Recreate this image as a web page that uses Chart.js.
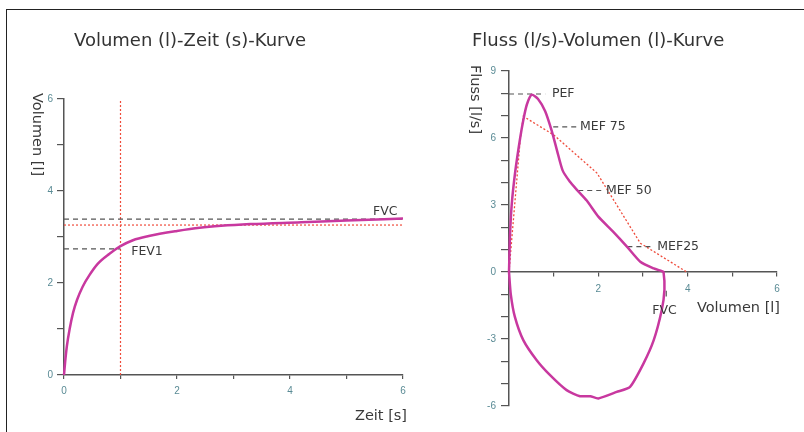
<!DOCTYPE html>
<html>
<head>
<meta charset="utf-8">
<script src="https://cdn.jsdelivr.net/npm/chart.js@4.4.1/dist/chart.umd.min.js"></script>
<style>
html,body{margin:0;padding:0;background:#fff;}
#wrap{position:relative;width:804px;height:432px;overflow:hidden;background:#fff;font-family:"DejaVu Sans",sans-serif;color:#333;}
canvas{position:absolute;top:0;}
#c1{left:0;}
#c2{left:420px;}
.frame-top{position:absolute;left:6px;top:9px;width:798px;height:0;border-top:1.5px solid #222;}
.frame-left{position:absolute;left:6px;top:9px;width:0;height:423px;border-left:1.5px solid #222;}
.title{position:absolute;font-size:18px;line-height:18px;white-space:nowrap;color:#333;}
.ax{position:absolute;font-size:14.5px;line-height:15px;white-space:nowrap;color:#3a3a3a;}
.rot{transform-origin:0 0;transform:rotate(90deg);}
</style>
</head>
<body>
<div id="wrap">
  <div class="frame-top"></div>
  <div class="frame-left"></div>
  <canvas id="c1" width="420" height="432"></canvas>
  <canvas id="c2" width="384" height="432"></canvas>
  <div class="title" style="left:74px;top:31px;">Volumen (l)-Zeit (s)-Kurve</div>
  <div class="title" style="left:472px;top:31px;">Fluss (l/s)-Volumen (l)-Kurve</div>
  <div class="ax" style="right:397px;top:408px;">Zeit [s]</div>
  <div class="ax" style="right:24px;top:300px;">Volumen [l]</div>
  <div class="ax rot" style="left:45px;top:93px;">Volumen [l]</div>
  <div class="ax rot" style="left:483px;top:65px;">Fluss [l/s]</div>
</div>
<script>
// ---------- Left chart: Volumen-Zeit-Kurve ----------
const timeS   = [0, 0.02, 0.05, 0.1, 0.16, 0.23, 0.33, 0.45, 0.6, 0.8, 1.0, 1.22, 1.5, 2.0, 2.4, 3.3, 4.2, 5.0, 6.0];
const volumeL = [0, 0.28, 0.62, 1.0, 1.35, 1.63, 1.92, 2.17, 2.42, 2.63, 2.8, 2.93, 3.02, 3.13, 3.2, 3.28, 3.32, 3.36, 3.4];
const fev1Time = [0, 1];
const fev1Volume = [2.74, 2.74];
const fvcTime = [0, 6];
const fvcVolume = [3.39, 3.39];
const refTime = [0, 6];
const refVolume = [3.26, 3.26];
const oneSecTime = [1, 1];
const oneSecVolume = [0, 6];
const timeTickLabels = ['0', '2', '4', '6'];
const volumeTickLabels = ['0', '2', '4', '6'];

// ---------- Right chart: Fluss-Volumen-Kurve ----------
const loopVolume = [0, 0.02, 0.06, 0.14, 0.25, 0.32, 0.4, 0.51, 0.65, 0.81, 0.96, 1.08, 1.2, 1.36, 1.52, 1.74, 2.0, 2.33, 2.64, 2.94, 3.24, 3.42, 3.46, 3.48, 3.42, 3.24, 3.01, 2.71, 2.41, 2.0, 1.82, 1.59, 1.29, 0.92, 0.62, 0.32, 0.13, 0.04, 0];
const loopFlow   = [0, 1.5, 3.0, 4.5, 6.0, 6.8, 7.5, 7.94, 7.75, 7.2, 6.3, 5.4, 4.55, 4.05, 3.68, 3.2, 2.48, 1.81, 1.14, 0.46, 0.16, 0.04, 0, -0.8, -1.7, -3.05, -4.1, -5.14, -5.37, -5.66, -5.56, -5.56, -5.29, -4.62, -3.95, -3.05, -2.0, -1.0, 0];
const predVolume = [0, 0.06, 0.25, 0.32, 1.0, 1.97, 2.94, 3.98];
const predFlow   = [0, 1.43, 5.9, 6.97, 6.14, 4.43, 1.29, 0];
const markerNames = ['PEF', 'MEF 75', 'MEF 50', 'MEF25'];
const markerFlow  = [7.97, 6.5, 3.65, 1.14];
const markerVolFrom = [0, 0.99, 1.55, 2.65];
const markerVolTo   = [0.81, 1.52, 2.11, 3.23];
const fvcMarkVolume = [3.52, 3.52];
const fvcMarkFlow = [-0.84, -1.1];
const flowTickLabels = ['9', '6', '3', '0', '-3', '-6'];
const loopVolTickLabels = ['2', '4', '6'];

function pts(xs, ys) { return xs.map((x, i) => ({x: x, y: ys[i]})); }

const PINK = '#c8389f';
const RED = '#ef4b3b';
const DASH = '#555';
const TICKC = '#5a8b95';
const AXISC = '#555';

const labelPlugin = {
  id: 'textLabels',
  afterDatasetsDraw(chart, args, opts) {
    const ctx = chart.ctx, sx = chart.scales.x, sy = chart.scales.y;
    ctx.save();
    ctx.font = opts.font;
    ctx.fillStyle = opts.color;
    ctx.textBaseline = 'middle';
    (opts.items || []).forEach(it => {
      ctx.textAlign = it.align || 'left';
      ctx.fillText(it.text, sx.getPixelForValue(it.x), sy.getPixelForValue(it.y));
    });
    ctx.restore();
  }
};

function lineDs(data, color, width, dash, order) {
  return {data: data, showLine: true, borderColor: color, backgroundColor: color, borderWidth: width,
          borderDash: dash || [], pointRadius: 0, pointHoverRadius: 0, fill: false, clip: false, order: order};
}

function tickFont() { return {family: 'Liberation Sans', size: 10}; }

// Left chart
const ds1 = [
  Object.assign(lineDs(pts(timeS, volumeL), PINK, 2.5, null, 0), {cubicInterpolationMode: 'monotone'}),
  lineDs(pts(oneSecTime, oneSecVolume), RED, 1.2, [2, 2], 3),
  lineDs(pts(refTime, refVolume), RED, 1.2, [2, 2], 3),
  lineDs(pts(fvcTime, fvcVolume), DASH, 1.2, [5, 4], 2),
  lineDs(pts(fev1Time, fev1Volume), DASH, 1.2, [5, 4], 2)
];

new Chart(document.getElementById('c1'), {
  type: 'scatter',
  data: {datasets: ds1},
  plugins: [labelPlugin],
  options: {
    responsive: false, animation: false, devicePixelRatio: 1,
    layout: {padding: {left: 0, right: 17, top: 99, bottom: 0}},
    plugins: {
      legend: {display: false}, tooltip: {enabled: false},
      textLabels: {font: '12.5px "DejaVu Sans"', color: '#3a3a3a', items: [
        {text: 'FEV1', x: 1.19, y: 2.67},
        {text: 'FVC', x: 5.47, y: 3.55}
      ]}
    },
    scales: {
      x: {
        type: 'linear', min: 0, max: 6,
        afterFit: s => { s.height = 57; },
        border: {display: true, color: AXISC, width: 1.5},
        grid: {drawOnChartArea: false, drawTicks: true, tickLength: 4, color: AXISC, lineWidth: 1.2},
        ticks: {stepSize: 1, autoSkip: false, maxRotation: 0, padding: 6, color: TICKC, font: tickFont(),
                callback: v => timeTickLabels.includes(String(v)) ? String(v) : ''}
      },
      y: {
        type: 'linear', min: 0, max: 6,
        afterFit: s => { s.width = 64; },
        border: {display: true, color: AXISC, width: 1.5},
        grid: {drawOnChartArea: false, drawTicks: true, tickLength: 7, color: AXISC, lineWidth: 1.2},
        ticks: {stepSize: 1, autoSkip: false, padding: 4, color: TICKC, font: tickFont(),
                callback: v => volumeTickLabels.includes(String(v)) ? String(v) : ''}
      }
    }
  }
});

// Right chart
const ds2 = [
  Object.assign(lineDs(pts(loopVolume, loopFlow), PINK, 2.5, null, 0), {tension: 0.2}),
  lineDs(pts(predVolume, predFlow), RED, 1.3, [2, 2], 3)
];
markerNames.forEach((n, i) => {
  ds2.push(lineDs(pts([markerVolFrom[i], markerVolTo[i]], [markerFlow[i], markerFlow[i]]), DASH, 1.2, [5, 4], 2));
});
ds2.push(lineDs(pts(fvcMarkVolume, fvcMarkFlow), DASH, 1.2, null, 2));

const markerLabelVol = [0.96, 1.59, 2.17, 3.32];
const rightItems = markerNames.map((n, i) => ({text: n, x: markerLabelVol[i], y: markerFlow[i]}));
rightItems.push({text: 'FVC', x: 3.48, y: -1.75, align: 'center'});

new Chart(document.getElementById('c2'), {
  type: 'scatter',
  data: {datasets: ds2},
  plugins: [labelPlugin],
  options: {
    responsive: false, animation: false, devicePixelRatio: 1,
    layout: {padding: {left: 0, right: 27, top: 71, bottom: 26}},
    plugins: {
      legend: {display: false}, tooltip: {enabled: false},
      textLabels: {font: '12.5px "DejaVu Sans"', color: '#3a3a3a', items: rightItems}
    },
    scales: {
      x: {
        type: 'linear', min: 0, max: 6, position: {y: 0},
        border: {display: true, color: AXISC, width: 1.5},
        grid: {drawOnChartArea: false, drawTicks: true, tickLength: 4, color: AXISC, lineWidth: 1.2},
        ticks: {stepSize: 1, autoSkip: false, maxRotation: 0, padding: 7, color: TICKC, font: tickFont(),
                callback: v => loopVolTickLabels.includes(String(v)) ? String(v) : ''}
      },
      y: {
        type: 'linear', min: -6, max: 9,
        afterFit: s => { s.width = 89; },
        border: {display: true, color: AXISC, width: 1.5},
        grid: {drawOnChartArea: false, drawTicks: true, tickLength: 8, color: AXISC, lineWidth: 1.2},
        ticks: {stepSize: 1, autoSkip: false, padding: 5, color: TICKC, font: tickFont(),
                callback: v => flowTickLabels.includes(String(v)) ? String(v) : ''}
      }
    }
  }
});
</script>
</body>
</html>
